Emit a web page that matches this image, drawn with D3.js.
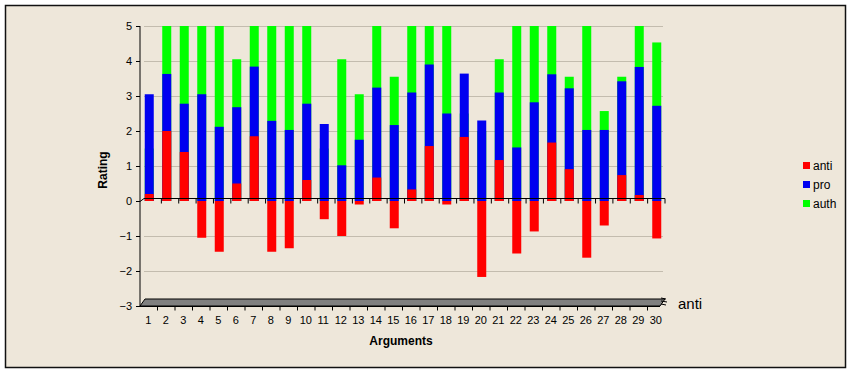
<!DOCTYPE html>
<html>
<head>
<meta charset="utf-8">
<script src="https://cdn.jsdelivr.net/npm/d3@7"></script>
<style>
  body { margin: 0; background: #fff; }
  text { font-family: "Liberation Sans", Arial, sans-serif; }
</style>
</head>
<body>
<div id="chart"></div>
<script>
    // arguments 1..30
    var args = d3.range(1, 31);

    // ratings per series
    var anti = [0.2, 2.0, 1.4, -1.05, -1.45, 0.5, 1.85, -1.45, -1.35, 0.6,
                -0.52, -1.0, -0.1, 0.67, -0.78, 0.33, 1.57, -0.1, 1.83, -2.17,
                1.17, -1.5, -0.87, 1.67, 0.91, -1.62, -0.7, 0.74, 0.17, -1.07];
    var pro  = [3.05, 3.63, 2.78, 3.05, 2.12, 2.68, 3.84, 2.29, 2.03, 2.78,
                2.2, 1.02, 1.75, 3.24, 2.17, 3.1, 3.9, 2.5, 3.64, 2.3,
                3.1, 1.53, 2.82, 3.62, 3.22, 2.03, 2.03, 3.42, 3.83, 2.72];
    var auth = [1.5, 5, 5, 5, 5, 4.05, 5, 5, 5, 5,
                1.5, 4.05, 3.05, 5, 3.55, 5, 5, 5, 2.5, 2.0,
                4.05, 5, 5, 5, 3.55, 5, 2.57, 3.55, 5, 4.53];

    var series = [
      { name: "anti", values: anti, color: "#ff0000" },
      { name: "pro", values: pro, color: "#0000f0" },
      { name: "auth", values: auth, color: "#00ff00" }
    ];
    var yTicks = [-3, -2, -1, 0, 1, 2, 3, 4, 5];

    var W = 851, H = 373;
    var svg = d3.select("#chart").append("svg")
      .attr("width", W)
      .attr("height", H);

    // frame
    svg.append("rect")
      .attr("x", 5.5).attr("y", 5.5)
      .attr("width", 840).attr("height", 362)
      .attr("fill", "#eee7da")
      .attr("stroke", "#111")
      .attr("stroke-width", 1.5);

    // scales
    var x = d3.scaleBand()
      .domain(args)
      .range([139.5, 664.5])
      .padding(0);
    var y = d3.scaleLinear()
      .domain([-3, 5])
      .range([306, 26]);

    var depth = 4; // 3d offset of the back wall

    // gridlines on the back wall
    svg.append("g")
      .selectAll("line")
      .data(yTicks.filter(function (d) { return d > -3 && d !== 0; }))
      .enter().append("line")
      .attr("x1", 140 + depth).attr("x2", 663)
      .attr("y1", function (d) { return Math.round(y(d)) + 0.5; })
      .attr("y2", function (d) { return Math.round(y(d)) + 0.5; })
      .attr("stroke", "#c3bcae");

    // floor
    var y0 = y(-3);
    svg.append("path")
      .attr("d", "M140," + y0 + "L" + (140 + depth + 1) + "," + (y0 - 7) +
        "L665," + (y0 - 7) + "L660," + y0 + "Z")
      .attr("fill", "#808080")
      .attr("stroke", "#000")
      .attr("stroke-width", 1);

    // bars: back series first so front series overlap
    var bw = 9;
    series.slice().reverse().forEach(function (s) {
      svg.append("g")
        .selectAll("rect")
        .data(s.values)
        .enter().append("rect")
        .attr("x", function (d, i) { return x(args[i]) + x.bandwidth() / 2 - bw / 2 + 1; })
        .attr("y", function (d) { return y(Math.max(0, d)); })
        .attr("width", bw)
        .attr("height", function (d) { return Math.abs(y(d) - y(0)); })
        .attr("fill", s.color);
    });

    // zero line with ticks
    var zl = Math.round(y(0)) - 0.5;
    svg.append("path")
      .attr("d", "M140," + (zl + 1) + "L" + (140 + depth) + "," + (zl - 2) + "L665," + (zl - 2))
      .attr("fill", "none")
      .attr("stroke", "#000");
    svg.append("g")
      .attr("transform", "translate(0," + (zl - 2) + ")")
      .call(d3.axisBottom(d3.scaleLinear().domain([0, 30]).range([139.5 + depth, 664.5]))
        .tickValues(d3.range(1, 31))
        .tickSize(5)
        .tickFormat(""))
      .call(function (g) { g.select(".domain").remove(); });

    // y axis
    svg.append("g")
      .attr("transform", "translate(140,0)")
      .call(d3.axisLeft(y).tickValues(yTicks).tickSize(4).tickPadding(4).tickFormat(d3.format("d")))
      .call(function (g) {
        g.select(".domain").attr("d", "M0," + y(5) + "V" + y(-3));
        g.selectAll("text").attr("font-size", 11).attr("font-family", "Liberation Sans, Arial, sans-serif").attr("fill", "#000");
      });

    // x axis: ticks at band boundaries, labels at band centres
    svg.append("g")
      .attr("transform", "translate(0," + (y0 + 0.5) + ")")
      .call(d3.axisBottom(d3.scaleLinear().domain([0, 30]).range([139.5, 664.5]))
        .tickValues(d3.range(1, 30))
        .tickSize(4)
        .tickFormat(""))
      .call(function (g) { g.select(".domain").attr("d", "M140,0H660"); });
    svg.append("g")
      .attr("transform", "translate(0," + (y0 + 4) + ")")
      .call(d3.axisBottom(x).tickSize(0).tickPadding(6))
      .call(function (g) {
        g.select(".domain").remove();
        g.selectAll("text").attr("font-size", 11).attr("font-family", "Liberation Sans, Arial, sans-serif").attr("fill", "#000");
      });

    // depth axis label
    svg.append("text")
      .attr("x", 678).attr("y", 309)
      .attr("font-size", 15)
      .text("anti");
    svg.append("path")
      .attr("d", "M661,298l5,1M661,301l6,1M661,304l5,1")
      .attr("stroke", "#000");

    // axis titles
    svg.append("text")
      .attr("x", 401).attr("y", 345)
      .attr("text-anchor", "middle")
      .attr("font-size", 12)
      .attr("font-weight", "bold")
      .text("Arguments");
    svg.append("text")
      .attr("transform", "translate(107,170)rotate(-90)")
      .attr("text-anchor", "middle")
      .attr("font-size", 12)
      .attr("font-weight", "bold")
      .text("Rating");

    // legend
    var legend = svg.append("g")
      .attr("transform", "translate(803,165)");
    var item = legend.selectAll("g")
      .data(series)
      .enter().append("g")
      .attr("transform", function (d, i) { return "translate(0," + (i * 19) + ")"; });
    item.append("rect")
      .attr("x", 0).attr("y", -3)
      .attr("width", 7).attr("height", 7)
      .attr("fill", function (d) { return d.color; });
    item.append("text")
      .attr("x", 10).attr("y", 4.5)
      .attr("font-size", 12)
      .text(function (d) { return d.name; });
</script>
</body>
</html>
